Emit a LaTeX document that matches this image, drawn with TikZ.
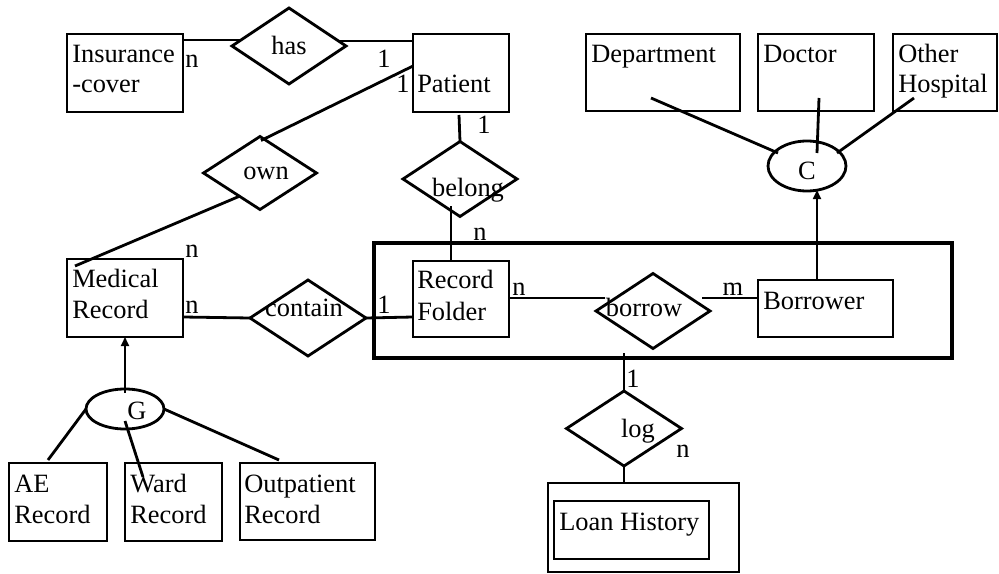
\documentclass[tikz,border=0pt]{standalone}
\usepackage{fontspec}
\setmainfont{Liberation Serif}
\usetikzlibrary{shapes.geometric,arrows.meta,calc}
\begin{document}
\begin{tikzpicture}[x=0.75pt,y=-0.75pt,
  font=\fontsize{19.8}{23.25}\selectfont,
  ent/.style={draw, line width=1.5pt, inner sep=0pt, outer sep=0pt, anchor=north west},
  aggbox/.style={draw, line width=2.4pt, inner sep=0pt, outer sep=0pt, anchor=north west},
  rel/.style={draw, diamond, line width=2.1pt, inner sep=0pt, outer sep=0pt},
  gen/.style={draw, ellipse, line width=2.1pt, inner sep=0pt, outer sep=0pt},
  txt/.style={inner sep=0pt, anchor=base west},
  lab/.style={inner sep=0pt, anchor=base},
  conn/.style={line width=2.1pt},
  arr/.style={line width=1.3pt, -{Triangle[length=6.75pt,width=6pt]}}
]
\useasboundingbox (0,0) rectangle (999,574);

% entities
\node[ent, minimum width=116*0.75pt, minimum height=78*0.75pt] (ins) at (67,34) {};
\node[ent, minimum width=96*0.75pt, minimum height=78*0.75pt] (pat) at (413,34) {};
\node[ent, minimum width=154*0.75pt, minimum height=77*0.75pt] (dept) at (586,34) {};
\node[ent, minimum width=116*0.75pt, minimum height=77*0.75pt] (doc) at (758,34) {};
\node[ent, minimum width=104*0.75pt, minimum height=77*0.75pt] (oth) at (893,34) {};
\node[ent, minimum width=116*0.75pt, minimum height=78*0.75pt] (med) at (67,259) {};
\node[aggbox, minimum width=578*0.75pt, minimum height=115*0.75pt] (agg) at (374,243) {};
\node[ent, minimum width=96*0.75pt, minimum height=76*0.75pt] (rf) at (413,261) {};
\node[ent, minimum width=135*0.75pt, minimum height=57*0.75pt] (bor) at (758,280) {};
\node[ent, minimum width=98*0.75pt, minimum height=78*0.75pt] (ae) at (9,463) {};
\node[ent, minimum width=97*0.75pt, minimum height=78*0.75pt] (ward) at (125,463) {};
\node[ent, minimum width=135*0.75pt, minimum height=77*0.75pt] (outp) at (240,463) {};
\node[ent, minimum width=191*0.75pt, minimum height=89*0.75pt] (loanout) at (548,483) {};
\node[ent, minimum width=155*0.75pt, minimum height=58*0.75pt] (loanin) at (554,501) {};

% relationships
\node[rel, minimum width=114*0.75pt, minimum height=76*0.75pt] (has) at (289,46) {};
\node[rel, minimum width=113*0.75pt, minimum height=73*0.75pt] (own) at (260,173) {};
\node[rel, minimum width=114*0.75pt, minimum height=75*0.75pt] (bel) at (460,179) {};
\node[rel, minimum width=116*0.75pt, minimum height=76*0.75pt] (con) at (308,318) {};
\node[rel, minimum width=114*0.75pt, minimum height=75*0.75pt] (borw) at (653,311) {};
\node[rel, minimum width=115*0.75pt, minimum height=75*0.75pt] (log) at (624,428.5) {};

% generalisation / category ellipses
\node[gen, minimum width=78*0.75pt, minimum height=50*0.75pt] (cc) at (807,166) {};
\node[gen, minimum width=78*0.75pt, minimum height=40*0.75pt] (gg) at (125,409) {};

% entity texts
\node[txt] (t1) at (72,63) {Insurance};
\node[txt] (t2) at (72,93) {-cover};
\node[txt] (t3) at (417,93) {Patient};
\node[txt] (t4) at (591,63) {Department};
\node[txt] (t5) at (763,63) {Doctor};
\node[txt] (t6) at (898,63) {Other};
\node[txt] (t7) at (898,93) {Hospital};
\node[txt] (t8) at (72,287) {Medical};
\node[txt] (t9) at (72,318) {Record};
\node[txt] (t10) at (417,288) {Record};
\node[txt] (t11) at (417,320) {Folder};
\node[txt] (t12) at (763,309) {Borrower};
\node[txt] (t13) at (14,492) {AE};
\node[txt] (t14) at (14,523) {Record};
\node[txt] (t15) at (130,492) {Ward};
\node[txt] (t16) at (130,523) {Record};
\node[txt] (t17) at (244,492) {Outpatient};
\node[txt] (t18) at (244,523) {Record};
\node[txt] (t19) at (559,530) {Loan History};

% relationship texts
\node[lab] (r1) at (289,55) {has};
\node[lab] (r2) at (266,180) {own};
\node[lab] (r3) at (468,196) {belong};
\node[lab] (r4) at (304,316) {contain};
\node[lab] (r5) at (644,316) {borrow};
\node[lab] (r6) at (638,437) {log};
\node[lab] (r7) at (807,180) {C};
\node[lab] (r8) at (137,419) {G};

% cardinalities
\node[lab] (c1) at (192,68) {n};
\node[lab] (c2) at (384,68) {1};
\node[lab] (c3) at (403,93) {1};
\node[lab] (c4) at (484,134) {1};
\node[lab] (c5) at (480,240) {n};
\node[lab] (c6) at (192,257) {n};
\node[lab] (c7) at (192,313) {n};
\node[lab] (c8) at (384,313) {1};
\node[lab] (c9) at (519,295) {n};
\node[lab] (c10) at (733,295) {m};
\node[lab] (c11) at (633,387) {1};
\node[lab] (c12) at (683,457) {n};

% connectors
\draw[conn] ($(ins.north east)+(0,6)$) -- ($(has.center)+(-47,-6)$);
\draw[conn] ($(has.center)+(51,-5)$) -- ($(pat.north west)+(0,7)$);
\draw[conn] ($(pat.north west)+(0,32)$) -- ($(own.north)+(1,4)$);
\draw[conn] ($(own.center)+(-20,23)$) -- ($(med.north west)+(8,7)$);
\draw[conn] ($(pat.south)+(-2,3)$) -- (bel.north);
\draw[conn] ($(bel.center)+(-9,27)$) -- ($(rf.north)+(-10,0)$);
\draw[conn] ($(med.north east)+(0,58)$) -- (con.west);
\draw[conn] (con.east) -- ($(rf.north west)+(0,56)$);
\draw[conn] ($(rf.north east)+(0,37)$) -- ($(borw.center)+(-48,-13)$);
\draw[conn] ($(borw.center)+(49,-13)$) -- ($(bor.north west)+(0,18)$);
\draw[conn] ($(agg.south)+(-39,-5)$) -- (log.north);
\draw[conn] (log.south) -- ($(loanout.north)+(-19.5,0)$);
\draw[arr] ($(bor.north)+(-8.5,0)$) -- ($(cc.center)+(10,24)$);
\draw[conn] ($(dept.center)+(-12,25.5)$) -- ($(cc.center)+(-29,-13)$);
\draw[conn] ($(doc.center)+(3,25.5)$) -- ($(cc.center)+(10,-13)$);
\draw[conn] ($(oth.center)+(-31,25.5)$) -- ($(cc.center)+(30,-13)$);
\draw[arr] ($(gg.north)+(0,4)$) -- (med.south);
\draw[conn] (gg.west) -- ($(ae.north)+(-10,-3)$);
\draw[conn] ($(gg.center)+(0,12)$) -- ($(ward.north)+(-30.5,14)$);
\draw[conn] (gg.east) -- ($(outp.north)+(-28.5,-3)$);
\end{tikzpicture}
\end{document}
